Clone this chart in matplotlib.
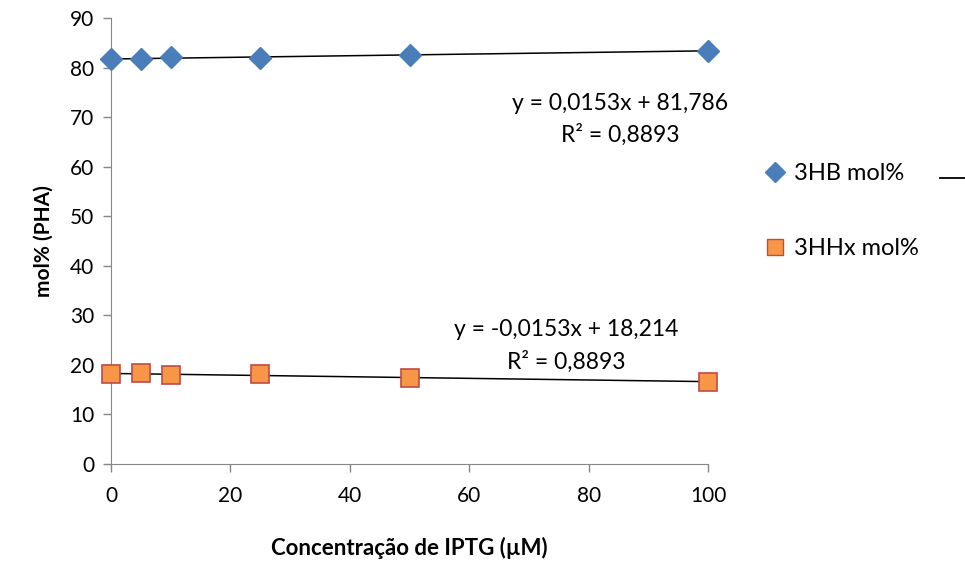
import numpy as np
import matplotlib.pyplot as plt
from matplotlib.lines import Line2D

plt.rcParams['font.family'] = ['Lato', 'DejaVu Sans']

iptg = [0, 5, 10, 25, 50, 100]
hb = [81.8, 81.7, 82.1, 81.9, 82.6, 83.4]
hhx = [18.2, 18.3, 17.9, 18.1, 17.4, 16.6]

eq_hb = 'y = 0,0153x + 81,786\nR² = 0,8893'
eq_hhx = 'y = -0,0153x + 18,214\nR² = 0,8893'

blue = '#4a7ebb'
orange = '#f79646'
red_edge = '#be4b48'
grey = '#868686'

fig = plt.figure(figsize=(9.65, 5.65), dpi=100)
ax = fig.add_axes([111 / 965, 101 / 565, 597 / 965, 446 / 565])

xs = np.array([0, 100])
for y in [hb, hhx]:
    p = np.polyfit(iptg, y, 1)
    ax.plot(xs, np.polyval(p, xs), color='black', lw=1.1, zorder=2)

ax.plot(iptg, hb, 'D', color=blue, ms=11, mec=blue, ls='none', zorder=3, clip_on=False)
ax.plot(iptg, hhx, 's', color=orange, ms=13, mec=red_edge, mew=1.2, ls='none', zorder=3, clip_on=False)

ax.text(85.3, 69.6, eq_hb, ha='center', va='center', fontsize=16.5, linespacing=1.55)
ax.text(76.3, 23.8, eq_hhx, ha='center', va='center', fontsize=16.5, linespacing=1.55)

ax.set_xlim(0, 100)
ax.set_ylim(0, 90)
ax.set_xticks(np.arange(0, 101, 20))
ax.set_yticks(np.arange(0, 91, 10))
ax.spines['top'].set_visible(False)
ax.spines['right'].set_visible(False)
for s in ['left', 'bottom']:
    ax.spines[s].set_color(grey)
ax.tick_params(colors=grey, labelcolor='black', labelsize=15, length=6, width=1)
ax.tick_params(axis='y', pad=6)
ax.tick_params(axis='x', pad=10)
ax.set_xlabel('Concentração de IPTG (µM)', fontsize=16, fontweight='bold', labelpad=22)
ax.set_ylabel('mol% (PHA)', fontsize=15, fontweight='bold', labelpad=12)

handles = [Line2D([], [], marker='D', color=blue, ls='none', ms=10),
           Line2D([], [], marker='s', color=orange, mec=red_edge, ls='none', ms=12)]
fig.legend(handles, ['3HB mol%', '3HHx mol%'], loc='center left',
           bbox_to_anchor=(744 / 965, 1 - 211 / 565), frameon=False, fontsize=17,
           labelspacing=2.3, handlelength=0.8, handletextpad=0.4)
fig.add_artist(Line2D([940 / 965, 965 / 965], [1 - 178 / 565] * 2, color='black', lw=1.3))

fig.savefig('out.png', dpi=100)
